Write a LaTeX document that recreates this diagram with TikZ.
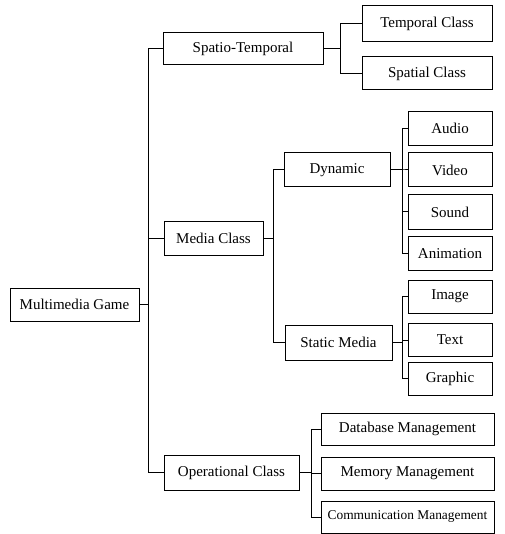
\documentclass[tikz,border=0pt]{standalone}
\usepackage{fontspec}
\setmainfont{Liberation Serif}
\usetikzlibrary{positioning}

\begin{document}
\begin{tikzpicture}[x=1pt,y=-1pt,
	box/.style={draw,line width=1pt,inner sep=0pt,minimum height=33pt,font=\fontsize{15}{18}\selectfont},
	link/.style={line width=1pt}]
	\useasboundingbox (0,0) rectangle (504,534);
	% root and first level
	\node[box,minimum width=129pt] (game) at (74.5,304.5) {Multimedia Game};
	\node[box,minimum width=160pt,minimum height=32pt] (spatio) at (243,49) {Spatio-Temporal};
	\node[box,minimum width=99pt] (media) at (213.5,238.5) {Media Class};
	\node[box,minimum width=135pt,minimum height=35pt] (oper) at (231.5,472.5) {Operational Class};
	% second level
	\node[box,minimum width=130pt,minimum height=36pt] (temporal) at (427,24) {Temporal Class};
	\node[box,minimum width=130pt] (spatial) at (427,73.5) {Spatial Class};
	\node[box,minimum width=106pt,minimum height=34pt] (dynamic) at (337,170) {Dynamic};
	\node[box,minimum width=107pt,minimum height=35pt] (static) at (338.5,342.5) {Static Media};
	% leaves
	\foreach \name/\txt/\y in {audio/Audio/128.5,video/Video/170,sound/Sound/212,anim/Animation/253.5}
		\node[box,minimum width=84pt,minimum height=34pt] (\name) at (450,\y) {\txt};
	\foreach \name/\txt/\y in {image/Image/296.5,text/Text/340,graphic/Graphic/378.5}
		\node[box,minimum width=84pt,minimum height=33pt] (\name) at (450,\y) {\txt};
	\node[box,minimum width=173pt,minimum height=32pt] (db) at (407.5,429) {Database Management};
	\node[box,minimum width=173pt] (mem) at (407.5,473.5) {Memory Management};
	\node[box,minimum width=173pt,minimum height=32pt,font=\fontsize{13.4}{16}\selectfont] (comm) at (407.5,517) {Communication Management};
	% connectors
	\foreach \c in {spatio,media,oper} \draw[link] (game.east) -- +(9,0) |- (\c.west);
	\foreach \c in {temporal,spatial} \draw[link] (spatio.east) -- +(17,0) |- (\c.west);
	\foreach \c in {dynamic,static} \draw[link] (media.east) -- +(10,0) |- (\c.west);
	\foreach \c in {audio,video,sound,anim} \draw[link] (dynamic.east) -- +(12,0) |- (\c.west);
	\foreach \c in {image,text,graphic} \draw[link] (static.east) -- +(10,0) |- (\c.west);
	\foreach \c in {db,mem,comm} \draw[link] (oper.east) -- +(12,0) |- (\c.west);
\end{tikzpicture}
\end{document}
